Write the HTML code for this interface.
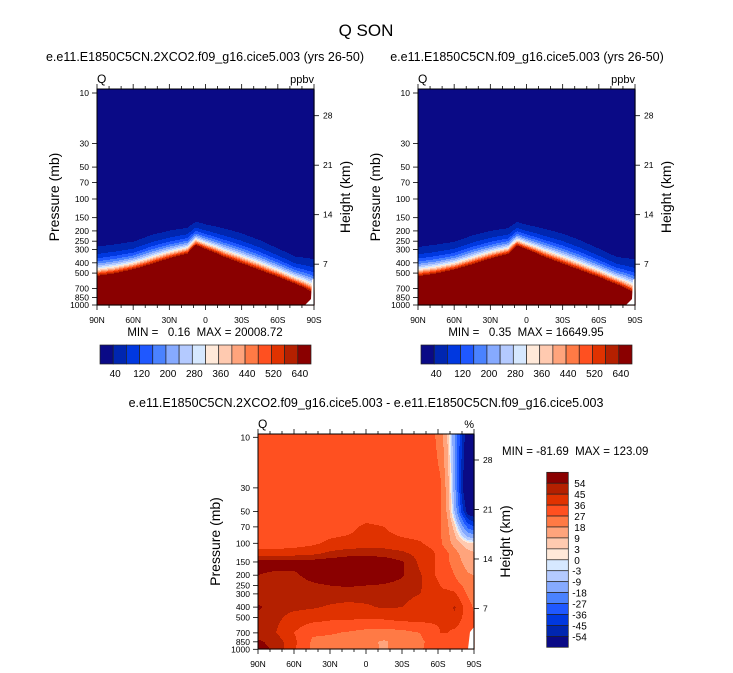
<!DOCTYPE html>
<html><head><meta charset="utf-8">
<style>
html,body{margin:0;padding:0;background:#fff;}
svg{display:block;font-family:"Liberation Sans",sans-serif;}
text{white-space:pre;}
</style></head>
<body>
<svg id="root" width="733" height="673" viewBox="0 0 733 673" xmlns="http://www.w3.org/2000/svg">
<rect width="733" height="673" fill="#fff"/>
<text x="366" y="36" font-size="17" text-anchor="middle">Q SON</text>
<text x="205" y="61" font-size="12.5" text-anchor="middle">e.e11.E1850C5CN.2XCO2.f09_g16.cice5.003 (yrs 26-50)</text>
<text x="527" y="61" font-size="12.5" text-anchor="middle">e.e11.E1850C5CN.f09_g16.cice5.003 (yrs 26-50)</text>
<text x="366" y="407" font-size="12.5" text-anchor="middle">e.e11.E1850C5CN.2XCO2.f09_g16.cice5.003 - e.e11.E1850C5CN.f09_g16.cice5.003</text>
<g id="panels"></g>
</svg>
<script>
// ---------- data ----------
const topLats = [90,75,60,45,30,15,8,0,-15,-30,-45,-60,-75,-90];
const topLevels = [10,100,200,300,400,500,700,1000];
const qCtl = [
 [0.2,0.2,0.2,0.2,0.2,0.2,0.2,0.2,0.2,0.2,0.2,0.2,0.2,0.2],
 [0.44,0.52,0.56,1.28,1.67,1.9,2.7,2.3,2.3,1.7,0.9,0.32,0.16,0.2],
 [9.0,11.1,13.6,27,41,56,120,84,51,32,17,7.3,2.9,4.1],
 [52.6,65.9,88,161,266,413,1100,682,319,179,97,45,19.5,18.7],
 [184,234,333,570,1002,1695,5300,3020,1164,610,329,165,74,54],
 [486,625,933,1528,2812,5080,20000,10000,3190,1580,853,451,212,125],
 [2099,2748,4400,6700,13240,20000,20000,20000,20000,6600,3560,2050,1016,435],
 [9910,13200,20000,20000,20000,20000,20000,20000,20000,20000,16300,10200,5380,1640]
];
const qCase = [
 [0.35,0.35,0.35,0.35,0.35,0.35,0.35,0.35,0.35,0.35,0.35,0.35,0.35,0.35],
 [0.42,0.5,0.55,1.25,1.6,1.85,2.6,2.2,2.2,1.6,0.88,0.35,0.35,0.35],
 [8.8,10.9,13.2,26,40,54,115,80,49,31,16.5,7.1,2.8,4.0],
 [51,64,86,157,258,400,1060,660,310,174,94,44,19,18.2],
 [180,228,325,555,975,1650,5100,2920,1130,595,320,160,72,52],
 [475,610,910,1490,2740,4950,16649,9700,3100,1540,830,440,206,122],
 [2050,2680,4290,6530,12900,16649,16649,16649,16649,6430,3470,2000,990,424],
 [9660,12870,16649,16649,16649,16649,16649,16649,16649,16649,15900,9950,5250,1600]
];
const qThresholds = [40,80,120,160,200,240,280,320,360,400,440,480,520,580,640];
const qTickLabels = ["40","120","200","280","360","440","520","640"];

const dLats = [90,75,60,45,30,15,0,-15,-30,-45,-55,-62,-68,-74,-80,-85,-90];
const dLevels = [10,30,50,70,100,125,150,200,250,300,400,500,700,850,1000];
const dPct = [
 [30,30,30,30,30,30,30,30,30,30,29,24,8,-18,-45,-65,-70],
 [30,30,30,30,30,30,30,30,30,30,30,28,14,-15,-50,-75,-80],
 [30,30,30,30,30,30,30,30,30,30,30,28,16,-10,-40,-60,-65],
 [30,30,30,30,31,33,38,36,31,30,30,28,20,5,-15,-30,-35],
 [31,31,32,34,38,39,40,40,39,37,33,28,22,14,8,4,3],
 [40,40,41,43,47,50,51,50,47,42,38,33,28,22,15,12,10],
 [58,58,58,58,60,62,62,60,55,43,38,33,28,24,18,14,12],
 [54,52,52,58,62,62,62,60,55,46,38,33,30,27,22,19,18],
 [47,48,49,52,54,55,54,53,51,46,40,36,32,30,27,24,22],
 [46,48,48,48,49,50,48,47,47,45,42,38,40,38,30,26,24],
 [56,48,47,46,44,42,44,46,45,42,40,38,42,46,38,30,26],
 [50,47,42,40,38,38,37,38,40,40,38,37,40,44,36,30,28],
 [48,45,36,28,28,26,24,23,24,27,33,36,36,33,30,28,28],
 [56,50,38,26,24,22,20,17,21,25,30,33,33,30,28,28,28],
 [58,52,37,26,24,22,21,17,22,26,30,33,33,30,28,28,28]
];
const dThresholds = [-54,-45,-36,-27,-18,-9,-3,0,3,9,18,27,36,45,54];
const dTickLabels = ["54","45","36","27","18","9","3","0","-3","-9","-18","-27","-36","-45","-54"];

const pressLabels = [10,30,50,70,100,150,200,250,300,400,500,700,850,1000];
const heightLabels = [28,21,14,7];
const latLabels = ["90N","60N","30N","0","30S","60S","90S"];
const palette = ["#0a0a86","#0026b0","#0038e0","#1f58ff","#4a82ff","#86aaff","#b4caff","#d6e8ff","#ffe9d9","#ffcab0","#ffa47c","#ff7a45","#ff5020","#e03200","#b42000","#8a0000"];

// ---------- helpers ----------
const NS = "http://www.w3.org/2000/svg";
const panels = document.getElementById('panels');
function mk(tag, attrs, parent){
  const e = document.createElementNS(NS, tag);
  for (const k in attrs) e.setAttribute(k, attrs[k]);
  (parent||panels).appendChild(e);
  return e;
}
function txt(x,y,s,size,anchor,parent){
  const t = mk('text',{x:x,y:y,'font-size':size,'text-anchor':anchor||'start'},parent);
  t.textContent = s; return t;
}
function interp1(arr, v){
  const asc = arr[arr.length-1] > arr[0];
  if (asc ? v<=arr[0] : v>=arr[0]) return [0,0];
  if (asc ? v>=arr[arr.length-1] : v<=arr[arr.length-1]) return [arr.length-2,1];
  for (let i=0;i<arr.length-1;i++){
    const a=arr[i], b=arr[i+1];
    if ((v-a)*(v-b) <= 0) return [i,(v-a)/(b-a)];
  }
  return [0,0];
}
function quant(v, th){ let k=0; while(k<th.length && v>=th[k]) k++; return k; }

function drawPanel(P){
  const g = mk('g',{});
  
  
  const W = P.right-P.left;
  const logLev = P.levels.map(p=>Math.log10(p));
  const field = mk('g',{},g);
  
  
  const xScale = lat => P.left + (90-lat)/180*W;
  const yScale = p => P.y10 + 106*(Math.log10(p)-1);
  const hScale = h => P.y10 + 22.7 + (28-h)*7.07;
  for (let y=P.top; y<P.bottom; y++){
    const lp = 1 + (y+0.5-P.y10)/106;
    const [li, lf] = interp1(logLev, lp);
    let runStart = P.left, runC = -1;
    for (let x=P.left; x<=P.right; x++){
      let c = runC;
      if (x<P.right){
        const lat = 90 - (x+0.5-P.left)/W*180;
        const [ai, af] = interp1(P.lats, lat);
        let v00=P.grid[li][ai], v01=P.grid[li][ai+1], v10=P.grid[li+1][ai], v11=P.grid[li+1][ai+1];
        if (P.logv){ v00=Math.log10(v00); v01=Math.log10(v01); v10=Math.log10(v10); v11=Math.log10(v11); }
        let v = (v00*(1-af)+v01*af)*(1-lf) + (v10*(1-af)+v11*af)*lf;
        if (P.logv) v = Math.pow(10,v);
        c = quant(v, P.th);
      }
      if (x===P.left){ runC=c; runStart=x; continue; }
      if (c!==runC || x===P.right){
        const r = mk('rect',{x:runStart,y:y,width:x-runStart+0.6,height:1.6,fill:palette[runC]},field);
        
        
        runStart=x; runC=c;
      }
    }
  }
  const miss = mk('polygon',{points:P.missing,fill:'#fff'},g);
  
  
  const fr = mk('rect',{x:P.left,y:P.top,width:W,height:P.bottom-P.top,fill:'none',stroke:'#000','stroke-width':1},g);
  
  
  pressLabels.forEach(p=>{
    const yy = yScale(p);
    mk('line',{x1:P.left-5,x2:P.left,y1:yy,y2:yy,stroke:'#000','stroke-width':0.8},g);
    const t = txt(P.left-8, yy+3, String(p), 8.5, 'end', g);
    
    
  });
  heightLabels.forEach(h=>{
    const yy = hScale(h);
    mk('line',{x1:P.right,x2:P.right+5,y1:yy,y2:yy,stroke:'#000','stroke-width':0.8},g);
    const t = txt(P.right+9, yy+3, String(h), 8.5, 'start', g);
    
    
  });
  for (let lat=90; lat>=-90; lat-=10){
    const xx = xScale(lat);
    const major = (lat%30===0);
    const L = major?5:3;
    mk('line',{x1:xx,x2:xx,y1:P.bottom,y2:P.bottom+L,stroke:'#000','stroke-width':0.8},g);
    mk('line',{x1:xx,x2:xx,y1:P.top,y2:P.top-L,stroke:'#000','stroke-width':0.8},g);
  }
  latLabels.forEach((s,i)=>{
    const t = txt(P.left + i*W/6, P.bottom+18, s, 8.5, 'middle', g);
    
    
  });
  const cy = (P.top+P.bottom)/2;
  const yt = txt(0,0,'Pressure (mb)',14,'middle',g);
  yt.setAttribute('transform',`translate(${P.left-38},${cy}) rotate(-90)`);
  
  
  const ht = txt(0,0,'Height (km)',14,'middle',g);
  ht.setAttribute('transform',`translate(${P.right+36},${cy}) rotate(-90)`);
  
  
  const q = txt(P.left, P.top-6, 'Q', 12, 'start', g);
  
  
  const u = txt(P.right, P.top-6, P.units, 11, 'end', g);
  
  
  if (P.minmax){
    const mm = txt(P.minmaxX, P.minmaxY, P.minmax, 11.5, P.minmaxAnchor, g);
    
    
  }
}

function hColorbar(x0,x1,y0,y1,labels){
  const g = mk('g',{});
  
  
  const n = palette.length, w=(x1-x0)/n;
  palette.forEach((c,i)=>{
    const r = mk('rect',{x:x0+i*w,y:y0,width:w,height:y1-y0,fill:c,stroke:'#222','stroke-width':0.7},g);
    
    
  });
  labels.forEach((s,i)=>{
    const t = txt(x0+(1+2*i)*w+2, y1+13, s, 10, 'middle', g);
    
    
  });
}
function vColorbar(x0,x1,y0,y1,labels){
  const g = mk('g',{});
  
  
  const n = palette.length, h=(y1-y0)/n;
  palette.slice().reverse().forEach((c,i)=>{
    const r = mk('rect',{x:x0,y:y0+i*h,width:x1-x0,height:h,fill:c,stroke:'#222','stroke-width':0.7},g);
    
    
  });
  labels.forEach((s,i)=>{
    const t = txt(x1+ (s[0]==='-'?4:6), y0+(i+1)*h+4, s, 10, 'start', g);
    
    
  });
}

drawPanel({name:'left-panel',left:97,right:314,top:89,bottom:305,y10:93,lats:topLats,levels:topLevels,grid:qCtl,logv:true,th:qThresholds,units:'ppbv',
  missing:'312,280 314,278 314,305 305,305 311,299',minmax:'MIN =   0.16  MAX = 20008.72',minmaxX:205,minmaxY:336,minmaxAnchor:'middle'});
drawPanel({name:'right-panel',left:418,right:635,top:89,bottom:305,y10:93,lats:topLats,levels:topLevels,grid:qCase,logv:true,th:qThresholds,units:'ppbv',
  missing:'633,280 635,278 635,305 626,305 632,299',minmax:'MIN =   0.35  MAX = 16649.95',minmaxX:526,minmaxY:336,minmaxAnchor:'middle'});
drawPanel({name:'diff-panel',left:258,right:474,top:434,bottom:649,y10:437.3,lats:dLats,levels:dLevels,grid:dPct,logv:false,th:dThresholds,units:'%',
  missing:'474,627 470,632 468,649 474,649',minmax:'MIN = -81.69  MAX = 123.09',minmaxX:502,minmaxY:455,minmaxAnchor:'start'});
hColorbar(100,311,345,364,qTickLabels);
hColorbar(421,632,345,364,qTickLabels);
vColorbar(546.7,568.3,472.3,647.3,dTickLabels);
</script>
</body></html>
